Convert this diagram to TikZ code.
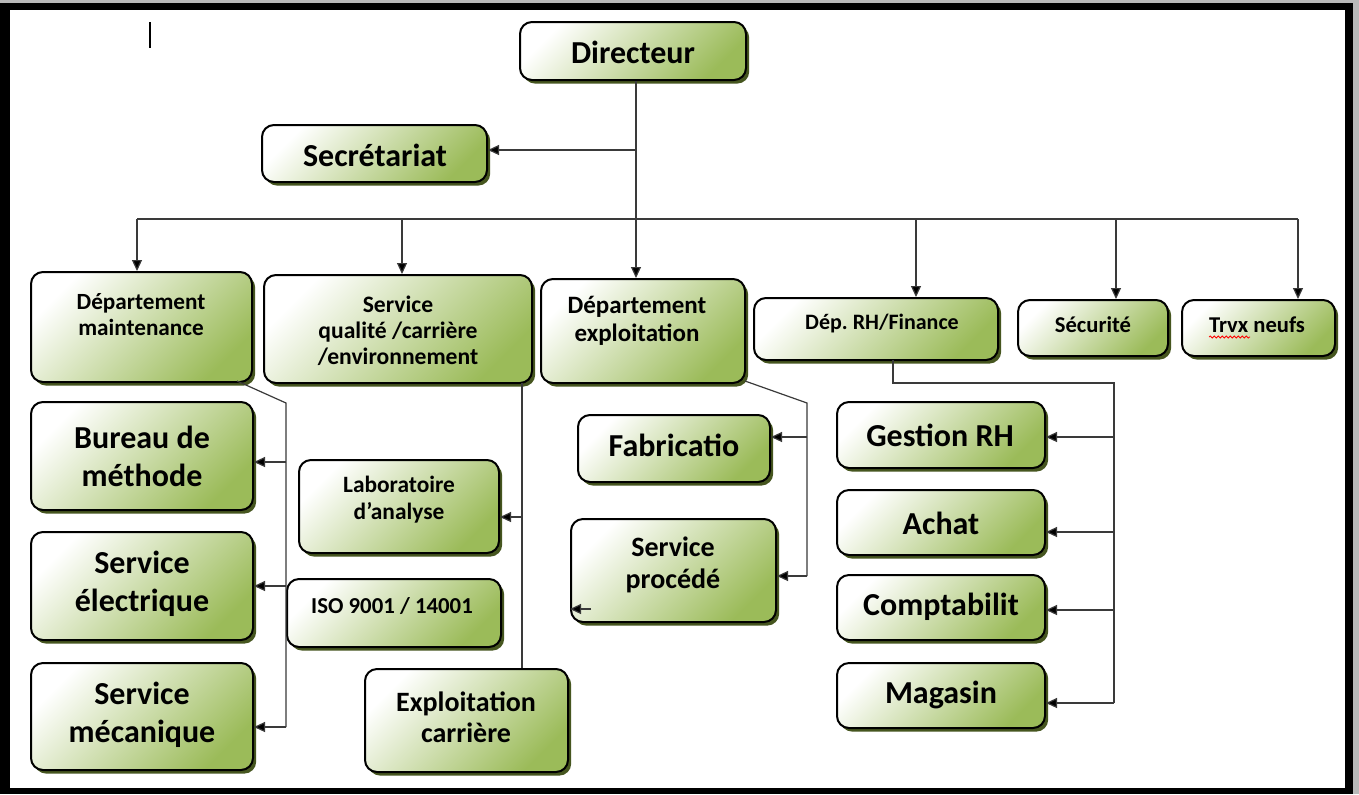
\documentclass[tikz,border=0pt]{standalone}
\usepackage{fontspec}
\setmainfont{Carlito}
\usetikzlibrary{arrows.meta,shadows,fit,decorations.pathmorphing,calc}
\definecolor{ogreen}{HTML}{9BBB59}
\definecolor{sgreen}{HTML}{46561F}
\definecolor{lcol}{HTML}{3A3A3A}
\newcommand\obox[5]{\node[box, fit={(#2,#3) (#4,#5)}] (#1) {};}
\frenchspacing
\begin{document}
\begin{tikzpicture}[x=0.5pt,y=-0.5pt,
  box/.style={rectangle, rounded corners=6pt, draw=black, line width=1pt,
    top color=white, bottom color=ogreen, shading angle=45, inner sep=0pt,
    drop shadow={shadow xshift=1.6pt, shadow yshift=-1.8pt, fill=sgreen, opacity=1}},
  txt/.style={align=center, inner sep=0pt, text=black},
  big/.style={txt, font=\fontsize{16}{19}\selectfont\bfseries},
  mid/.style={txt, font=\fontsize{14}{16}\selectfont\bfseries},
  sml/.style={txt, font=\fontsize{11.6}{13}\selectfont\bfseries},
  conn/.style={draw=lcol, line width=0.6pt},
  arr/.style={conn, -{Triangle[length=5.5pt,width=5pt,fill=black]}}]
% frame
\fill[gray!55] (0,0) rectangle (1359,794);
\fill[black] (0,3) rectangle (1353,794);
\fill[white] (10,10) rectangle (1345,788);
\useasboundingbox (0,0) rectangle (1359,794);
\draw[black, line width=1pt] (150,22) coordinate (cur1) -- (150,48) coordinate (cur2);
% boxes
\obox{dir}{520}{22}{746}{80}
\obox{sec}{262}{125}{487}{182}
\obox{dm}{31}{272}{252}{382}
\obox{sq}{264}{275}{532}{383}
\obox{dex}{541}{279}{745}{383}
\obox{rh}{754}{298}{998}{360}
\obox{secu}{1018}{300}{1168}{356}
\obox{trvx}{1182}{300}{1335}{356}
\obox{bur}{31}{402}{253}{510}
\obox{elec}{31}{532}{253}{640}
\obox{meca}{31}{663}{253}{770}
\obox{lab}{299}{460}{499}{553}
\obox{iso}{287}{579}{501}{647}
\obox{expc}{365}{669}{568}{772}
\obox{fab}{578}{415}{770}{482}
\obox{proc}{571}{519}{776}{622}
\obox{grh}{837}{402}{1045}{468}
\obox{ach}{837}{490}{1045}{555}
\obox{comp}{837}{575}{1045}{640}
\obox{mag}{837}{663}{1045}{728}
% texts
\node[big] (tdir) at (633,52) {Directeur};
\node[big] (tsec) at (375,155) {Secrétariat};
\node[sml] (tdm) at (141,315) {Département\\maintenance};
\node[sml, font=\fontsize{11.8}{13}\selectfont\bfseries] (tsq) at (398,331) {Service\\qualité /carrière\\/environnement};
\node[sml, font=\fontsize{12.5}{14}\selectfont\bfseries] (tdex) at (637,321) {Département\\exploitation};
\node[sml, font=\fontsize{11}{13}\selectfont\bfseries] (trh) at (882,324) {Dép. RH/Finance};
\node[sml, font=\fontsize{11.3}{13}\selectfont\bfseries] (tsecu) at (1093,325) {Sécurité};
\node[sml, font=\fontsize{11.3}{13}\selectfont\bfseries] (ttrvx) at (1257,325) {Trvx neufs};
\node[big] (tbur) at (142,456) {Bureau de\\méthode};
\node[big] (telec) at (142,584) {Service\\électrique};
\node[big] (tmeca) at (142,715) {Service\\mécanique};
\node[sml, font=\fontsize{11.7}{13.5}\selectfont\bfseries] (tlab) at (399,500) {Laboratoire\\d’analyse};
\node[sml, font=\fontsize{11.4}{13}\selectfont\bfseries] (tiso) at (392,606) {ISO 9001 / 14001};
\node[mid, font=\fontsize{14}{15.5}\selectfont\bfseries] (texpc) at (466,717) {Exploitation\\carrière};
\node[big] (tfab) at (674,445) {Fabricatio};
\node[mid] (tproc) at (673,565) {Service\\procédé};
\node[big] (tgrh) at (940,435) {Gestion RH};
\node[big] (tach) at (941,523) {Achat};
\node[big] (tcomp) at (941,607) {Comptabilit};
\node[big] (tmag) at (941,695) {Magasin};
% spell-check underline
\draw[red, line width=0.4pt, decorate, decoration={snake, amplitude=0.5pt, segment length=2pt}] (1209,337) coordinate (sp1) -- (1250,337) coordinate (sp2);
% connectors: director
\coordinate (tr) at ([xshift=1.5pt]dir.south);
\draw[arr] (tr) -- (tr |- dex.north);
\draw[arr] (tr |- 0,150) -- (sec.east |- 0,150);
% bus
\coordinate (bL) at (137,219);
\coordinate (bR) at (1298,219);
\draw[conn] (bL) -- (bR);
\draw[arr] (bL) -- (bL |- dm.north);
\coordinate (b2) at (402,219);
\draw[arr] (b2) -- (b2 |- sq.north);
\coordinate (b4) at (916,219);
\draw[arr] (b4) -- (b4 |- rh.north);
\coordinate (b5) at (1116,219);
\draw[arr] (b5) -- (b5 |- secu.north);
\draw[arr] (bR) -- (bR |- trvx.north);
% maintenance
\coordinate (m0) at (237,381);
\coordinate (m1) at (286,403);
\coordinate (m2) at (286,727);
\draw[conn] (m0) -- (m1) -- (m2);
\draw[arr] (m1 |- 0,462) -- (bur.east |- 0,462);
\draw[arr] (m1 |- 0,586) -- (elec.east |- 0,586);
\draw[arr] (m2) -- (meca.east |- m2);
% qualite
\coordinate (q0) at (522,383);
\draw[conn] (q0) -- (q0 |- expc.north);
\draw[arr] (q0 |- 0,517) -- (lab.east |- 0,517);
% exploitation
\coordinate (e0) at (745,381);
\coordinate (e1) at (807,403);
\coordinate (e2) at (807,576);
\draw[conn] (e0) -- (e1) -- (e2);
\draw[arr] (e1 |- 0,437) -- (fab.east |- 0,437);
\draw[arr] (e2) -- (proc.east |- e2);
\coordinate (p0) at (591,609);
\draw[arr] (p0) -- (proc.west |- p0);
% RH
\coordinate (r0) at (893,360);
\coordinate (r1) at (893,383);
\coordinate (r2) at (1114,383);
\coordinate (r3) at (1114,703);
\draw[conn] (r0) -- (r1) -- (r2) -- (r3);
\draw[arr] (r2 |- 0,437) -- (grh.east |- 0,437);
\draw[arr] (r2 |- 0,532) -- (ach.east |- 0,532);
\draw[arr] (r2 |- 0,610) -- (comp.east |- 0,610);
\draw[arr] (r3) -- (mag.east |- r3);
\end{tikzpicture}
\end{document}
